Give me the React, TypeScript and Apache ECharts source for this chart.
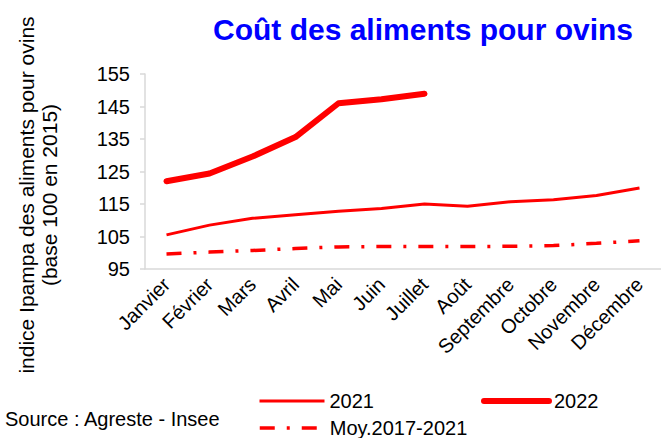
import React, { useEffect, useRef } from "react";
import * as echarts from "echarts";

const months = ["Janvier", "Février", "Mars", "Avril", "Mai", "Juin", "Juillet", "Août", "Septembre", "Octobre", "Novembre", "Décembre"];
const values2021 = [105.5, 108.5, 110.6, 111.7, 112.8, 113.6, 115.0, 114.3, 115.7, 116.3, 117.6, 119.9];
const values2022 = [122.0, 124.4, 129.6, 135.6, 146.0, 147.2, 148.9];
const valuesMoy = [99.6, 100.2, 100.7, 101.3, 101.8, 101.9, 101.9, 101.9, 102.0, 102.2, 102.9, 103.7];
const yTicks = [95, 105, 115, 125, 135, 145, 155];
const titleText = "Coût des aliments pour ovins";
const yNameLine1 = "indice Ipampa des aliments pour ovins";
const yNameLine2 = "(base 100 en 2015)";
const sourceText = "Source : Agreste - Insee";

const FONT = "'Liberation Sans', Arial, Helvetica, sans-serif";
const RED = "#FF0000";

export default function App() {
  const ref = useRef<HTMLDivElement>(null);
  useEffect(() => {
    if (!ref.current) return;
    const chart = echarts.init(ref.current, null, { renderer: "svg" });
    chart.setOption({
      animation: false,
      backgroundColor: "#ffffff",
      textStyle: { fontFamily: FONT },
      title: {
        text: titleText,
        left: 213,
        top: 14,
        padding: 0,
        textStyle: { color: "#0000FF", fontSize: 30, fontWeight: "bold", fontFamily: FONT },
      },
      grid: { left: 145, top: 74, bottom: 169, right: -8, containLabel: false },
      xAxis: {
        type: "category",
        data: months,
        boundaryGap: true,
        axisLine: { show: true, lineStyle: { color: "#D9D9D9", width: 1.5 } },
        axisTick: { show: false },
        axisLabel: { rotate: 45, fontSize: 20, color: "#000", margin: 12, fontFamily: FONT, interval: 0 },
        splitLine: { show: false },
      },
      yAxis: {
        type: "value",
        min: 95,
        max: 155,
        axisLine: { show: true, lineStyle: { color: "#D9D9D9", width: 1.5 } },
        axisTick: { show: true, length: 5, customValues: yTicks, lineStyle: { color: "#D9D9D9", width: 1.5 } },
        axisLabel: { fontSize: 20, color: "#000", margin: 15, customValues: yTicks, fontFamily: FONT },
        splitLine: { show: false },
      },
      legend: [
        {
          data: [
            { name: "2021", lineStyle: { width: 3, color: RED } },
            { name: "2022", lineStyle: { width: 6, color: RED, cap: "round" } },
          ],
          left: 258,
          top: 391,
          padding: 0,
          itemWidth: 65,
          itemHeight: 14,
          itemGap: 107,
          itemStyle: { opacity: 0 },
          textStyle: { fontSize: 20, color: "#000", fontFamily: FONT },
        },
        {
          data: [{ name: "Moy.2017-2021", lineStyle: { width: 3.5, color: RED, type: [15, 12, 3, 12] } }],
          left: 258,
          top: 418,
          padding: 0,
          itemWidth: 58,
          itemHeight: 14,
          itemStyle: { opacity: 0 },
          textStyle: { fontSize: 20, color: "#000", fontFamily: FONT, padding: [0, 0, 0, 7] },
        },
      ],
      graphic: [
        {
          type: "text",
          x: 26,
          y: 195,
          rotation: Math.PI / 2,
          style: { text: yNameLine1, fontSize: 21, fill: "#000", fontFamily: FONT, align: "center", verticalAlign: "middle" },
        },
        {
          type: "text",
          x: 49,
          y: 195,
          rotation: Math.PI / 2,
          style: { text: yNameLine2, fontSize: 21, fill: "#000", fontFamily: FONT, align: "center", verticalAlign: "middle" },
        },
        {
          type: "text",
          x: 5,
          y: 419,
          style: { text: sourceText, fontSize: 20, fill: "#000", fontFamily: FONT, align: "left", verticalAlign: "middle" },
        },
      ],
      series: [
        {
          name: "2021",
          type: "line",
          data: values2021,
          symbol: "none",
          lineStyle: { color: RED, width: 3 },
          itemStyle: { color: RED },
        },
        {
          name: "2022",
          type: "line",
          data: values2022,
          symbol: "none",
          lineStyle: { color: RED, width: 6, cap: "round", join: "round" },
          itemStyle: { color: RED },
        },
        {
          name: "Moy.2017-2021",
          type: "line",
          data: valuesMoy,
          symbol: "none",
          lineStyle: { color: RED, width: 3.5, type: [15, 12, 3, 12] },
          itemStyle: { color: RED },
        },
      ],
    });
    return () => chart.dispose();
  }, []);
  return (
    <div
      ref={ref}
      style={{ position: "fixed", left: 0, top: 0, width: 661, height: 438, background: "#fff" }}
    />
  );
}
